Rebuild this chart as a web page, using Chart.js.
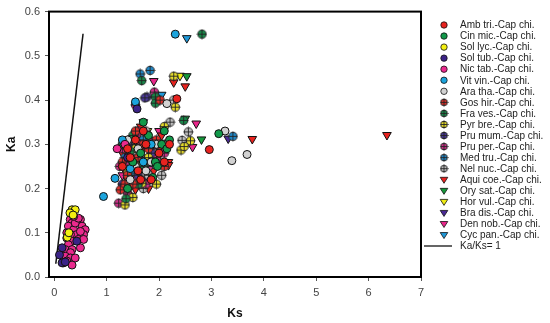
<!DOCTYPE html>
<html>
<head>
<meta charset="utf-8">
<script src="https://cdn.jsdelivr.net/npm/chart.js@4.4.0/dist/chart.umd.min.js"></script>
<style>
  html, body { margin: 0; padding: 0; background: #fff; }
</style>
</head>
<body>
<canvas id="kaks" width="550" height="323"></canvas>
<script>
// Ks / Ka pairs, one array per species pair
const ambTri = [[1.45,0.27],[1.6,0.24],[1.75,0.30],[1.85,0.22],[2.0,0.28],[1.55,0.31],[2.34,0.403],[2.96,0.288],[1.3,0.25],[1.7,0.33],[2.1,0.26],
                [1.4,0.29],[1.65,0.22],[2.2,0.30]];
const cinMic = [[1.93,0.26],[1.97,0.25],[1.88,0.225],[3.14,0.324],[2.05,0.30],[1.65,0.28],[1.8,0.32],[2.15,0.29],[1.5,0.26],[2.1,0.33],
                [1.7,0.35],[1.4,0.20],[2.2,0.31]];
const solLyc = [[0.34,0.152],[0.40,0.152],[0.30,0.145],[0.25,0.09],[0.28,0.10],[0.36,0.14]];
const solTub = [[0.15,0.066],[0.15,0.032],[0.43,0.081],[0.10,0.05],[0.21,0.034],[1.58,0.38],[1.4,0.27]];
const nicTab = [[0.305,0.130],[0.34,0.122],[0.27,0.115],[0.37,0.107],[0.50,0.130],[0.53,0.115],[0.59,0.107],[0.56,0.096],
                [0.43,0.096],[0.31,0.096],[0.24,0.088],[0.34,0.081],[0.46,0.085],[0.27,0.073],[0.21,0.062],[0.34,0.062],
                [0.50,0.066],[0.31,0.055],[0.21,0.047],[0.31,0.043],[0.40,0.043],[0.24,0.036],[0.18,0.032],[0.34,0.027],
                [0.56,0.085],[0.50,0.103],[0.40,0.122],[0.24,0.100],[0.46,0.133],[0.37,0.137],[1.2,0.29],[1.35,0.30]];
const vitVin = [[0.94,0.182],[1.16,0.223],[2.31,0.549],[1.55,0.396],[1.45,0.245],[1.7,0.26],[1.3,0.31],[1.85,0.30]];
const araTha = [[2.15,0.392],[3.26,0.33],[3.68,0.277],[3.39,0.263],[1.55,0.25],[1.4,0.31],[1.95,0.30],[1.75,0.24],
                [1.6,0.29],[1.85,0.26],[1.45,0.22]];
const gosHir = [[2.02,0.40],[1.26,0.197],[1.4,0.23],[1.6,0.27],[1.8,0.29],[1.5,0.21],[1.95,0.31],[1.3,0.26],
                [1.35,0.21],[1.55,0.33],[2.1,0.25],[1.7,0.30]];
const fraVes = [[2.82,0.549],[1.67,0.444],[1.93,0.407],[1.93,0.393],[2.47,0.354],[1.37,0.177],[1.5,0.32],[1.7,0.25],[1.45,0.285],
                [1.6,0.21],[1.85,0.26],[1.3,0.30]];
const pyrBre = [[2.28,0.454],[2.31,0.384],[2.60,0.308],[2.42,0.287],[2.48,0.295],[1.67,0.212],[1.35,0.163],[1.55,0.29],[1.8,0.27],[1.4,0.24],
                [1.6,0.26],[1.95,0.21],[1.5,0.18],[2.1,0.34]];
const pruMum = [[1.77,0.407],[1.73,0.405],[1.4,0.30],[1.6,0.23],[1.3,0.21],[1.85,0.28]];
const pruPer = [[1.91,0.418],[1.55,0.389],[1.23,0.167],[1.35,0.26],[1.65,0.30],[1.5,0.22],[1.8,0.25],[1.25,0.25],[1.95,0.27],
                [1.4,0.19],[1.6,0.33],[1.75,0.21],[2.1,0.28],[1.3,0.29]];
const medTru = [[1.64,0.459],[1.83,0.467],[3.41,0.318],[1.5,0.29],[1.35,0.27],[1.7,0.31],[1.55,0.235],[1.45,0.31],[1.95,0.30]];
const nelNuc = [[2.21,0.35],[2.28,0.40],[2.56,0.328],[2.44,0.309],[1.42,0.204],[1.8,0.23],[1.65,0.27],[1.85,0.30],[2.0,0.26],[1.5,0.25],[1.75,0.33],
                [1.55,0.30],[1.6,0.22],[1.9,0.28],[2.1,0.30],[1.45,0.26],[1.7,0.20],[2.05,0.23]];
const aquiCoe = [[2.28,0.44],[2.50,0.431],[3.78,0.312],[6.35,0.321],[2.18,0.26],[2.18,0.253],[1.55,0.198],[1.5,0.30],[1.7,0.29],[1.3,0.28],[1.9,0.24],[2.05,0.32],
                 [1.4,0.22],[1.8,0.20],[2.0,0.29],[1.65,0.34],[1.35,0.24]];
const orySat = [[2.53,0.454],[2.50,0.358],[2.81,0.311],[1.85,0.27],[1.6,0.25]];
const horVul = [[2.40,0.455],[1.78,0.33],[1.6,0.31],[1.45,0.26]];
const braDis = [[3.32,0.313],[1.5,0.27],[1.7,0.22],[1.35,0.29]];
const denNob = [[1.90,0.443],[2.71,0.347],[2.64,0.294],[1.75,0.32],[1.85,0.31],[1.6,0.32],[1.4,0.28],[1.55,0.27],[1.95,0.29],
                [1.5,0.30],[1.7,0.35],[2.0,0.33],[1.3,0.23]];
const cycPan = [[2.53,0.54],[2.05,0.412],[1.6,0.30],[1.45,0.28],[1.75,0.27]];

// neutral line Ka = Ks
const neutralLine = [[0.03,0.03],[0.55,0.55]];

const seriesNames = ['Amb tri.-Cap chi.','Cin mic.-Cap chi.','Sol lyc.-Cap chi.','Sol tub.-Cap chi.','Nic tab.-Cap chi.',
  'Vit vin.-Cap chi.','Ara tha.-Cap chi.','Gos hir.-Cap chi.','Fra ves.-Cap chi.','Pyr bre.-Cap chi.','Pru mum.-Cap chi.',
  'Pru per.-Cap chi.','Med tru.-Cap chi.','Nel nuc.-Cap chi.','Aqui coe.-Cap chi.','Ory sat.-Cap chi.','Hor vul.-Cap chi.',
  'Bra dis.-Cap chi.','Den nob.-Cap chi.','Cyc pan.-Cap chi.'];
const lineName = 'Ka/Ks= 1';
const xTicks = [0, 1, 2, 3, 4, 5, 6, 7];
const yTicks = [0, 0.1, 0.2, 0.3, 0.4, 0.5, 0.6];

const seriesData = [ambTri, cinMic, solLyc, solTub, nicTab, vitVin, araTha, gosHir, fraVes, pyrBre, pruMum,
  pruPer, medTru, nelNuc, aquiCoe, orySat, horVul, braDis, denNob, cycPan];

const colors = ['#e8231f','#12994a','#f3ef12','#3b2387','#ea2a8e','#1ba4dd','#d2d2d2',
  '#e0302a','#18894a','#e6dc2a','#4a3898','#d0308a','#2088c8','#c0c0c0',
  '#e8231f','#15983a','#f0ec14','#4a2a95','#e8268a','#2098d8'];
const shapes = ['circle','circle','circle','circle','circle','circle','circle',
  'cross','cross','cross','cross','cross','cross','cross',
  'tri','tri','tri','tri','tri','tri'];

const FONT = '"Liberation Sans", Arial, sans-serif';

// circle with a plus through it
function crossMarker(color, size) {
  const c = document.createElement('canvas');
  c.width = size; c.height = size;
  const g = c.getContext('2d');
  const m = size / 2;
  g.beginPath();
  g.arc(m, m, size * 0.37, 0, Math.PI * 2);
  g.fillStyle = color;
  g.fill();
  g.lineWidth = 1;
  g.strokeStyle = '#222';
  g.stroke();
  g.beginPath();
  g.moveTo(0.5, m); g.lineTo(size - 0.5, m);
  g.moveTo(m, 0.5); g.lineTo(m, size - 0.5);
  g.lineWidth = 0.9;
  g.stroke();
  return c;
}

const datasets = seriesData.map((pts, i) => ({
  label: seriesNames[i],
  data: pts.map(p => ({ x: p[0], y: p[1] })),
  pointStyle: shapes[i] === 'cross' ? crossMarker(colors[i], 11) : (shapes[i] === 'tri' ? 'triangle' : 'circle'),
  pointRotation: shapes[i] === 'tri' ? 180 : 0,
  pointRadius: shapes[i] === 'tri' ? 5 : 4,
  pointHoverRadius: shapes[i] === 'tri' ? 5 : 4,
  backgroundColor: colors[i],
  borderColor: '#111',
  borderWidth: 1,
  showLine: false
}));

datasets.push({
  type: 'line',
  label: lineName,
  data: neutralLine.map(p => ({ x: p[0], y: p[1] })),
  borderColor: '#111',
  borderWidth: 1.5,
  pointRadius: 0,
  fill: false,
  showLine: true
});

// box around the plot area
const framePlugin = {
  id: 'frame',
  afterDatasetsDraw(chart) {
    const a = chart.chartArea, ctx = chart.ctx;
    ctx.save();
    ctx.strokeStyle = '#000';
    ctx.lineWidth = 2;
    ctx.strokeRect(a.left, a.top, a.right - a.left, a.bottom - a.top);
    ctx.restore();
  }
};

// legend column on the right
const legendPlugin = {
  id: 'sideLegend',
  afterDraw(chart) {
    const ctx = chart.ctx;
    const mx = 444, tx = 460, y0 = 25, step = 11.05;
    ctx.save();
    ctx.font = '10px ' + FONT;
    ctx.textBaseline = 'middle';
    seriesNames.forEach((name, i) => {
      const y = y0 + i * step;
      ctx.fillStyle = colors[i];
      ctx.strokeStyle = '#111';
      ctx.lineWidth = 0.8;
      if (shapes[i] === 'circle') {
        ctx.beginPath(); ctx.arc(mx, y, 3.2, 0, Math.PI * 2); ctx.fill(); ctx.stroke();
      } else if (shapes[i] === 'tri') {
        ctx.beginPath();
        ctx.moveTo(mx - 3.8, y - 2.4); ctx.lineTo(mx + 3.8, y - 2.4); ctx.lineTo(mx, y + 3.6);
        ctx.closePath(); ctx.fill(); ctx.stroke();
      } else {
        ctx.drawImage(crossMarker(colors[i], 9), mx - 4.5, y - 4.5);
      }
      ctx.fillStyle = '#222';
      ctx.fillText(name, tx, y + 0.5);
    });
    const ly = y0 + seriesNames.length * step;
    ctx.beginPath();
    ctx.moveTo(424, ly); ctx.lineTo(452, ly);
    ctx.strokeStyle = '#111'; ctx.lineWidth = 1.3; ctx.stroke();
    ctx.fillStyle = '#222';
    ctx.fillText(lineName, tx, ly + 0.5);
    ctx.restore();
  }
};

new Chart(document.getElementById('kaks').getContext('2d'), {
  type: 'scatter',
  data: { datasets: datasets },
  options: {
    responsive: false,
    animation: false,
    devicePixelRatio: 1,
    layout: { padding: { left: 0, right: 129, top: 3, bottom: 0 } },
    plugins: { legend: { display: false }, tooltip: { enabled: false } },
    scales: {
      x: {
        type: 'linear',
        min: -0.1,
        max: 7,
        afterBuildTicks: s => { s.ticks = xTicks.map(v => ({ value: v })); },
        afterFit: s => { s.height = 46; },
        grid: { display: true, drawOnChartArea: false, drawTicks: true, tickLength: 4, color: '#555' },
        border: { display: false },
        ticks: { color: '#444', padding: 5, font: { family: FONT, size: 11 }, callback: v => String(v) },
        title: { display: true, text: 'Ks', color: '#111', font: { family: FONT, size: 12, weight: 'bold' }, padding: { top: 2, bottom: 2 } }
      },
      y: {
        type: 'linear',
        min: 0,
        max: 0.6,
        afterBuildTicks: s => { s.ticks = yTicks.map(v => ({ value: v })); },
        afterFit: s => { s.width = 49; },
        grid: { display: true, drawOnChartArea: false, drawTicks: true, tickLength: 4, color: '#555' },
        border: { display: false },
        ticks: { color: '#444', padding: 5, font: { family: FONT, size: 11 }, callback: v => Number(v).toFixed(1) },
        title: { display: true, text: 'Ka', color: '#111', font: { family: FONT, size: 12, weight: 'bold' }, padding: { top: 4, bottom: 2 } }
      }
    }
  },
  plugins: [framePlugin, legendPlugin]
});
</script>
</body>
</html>
